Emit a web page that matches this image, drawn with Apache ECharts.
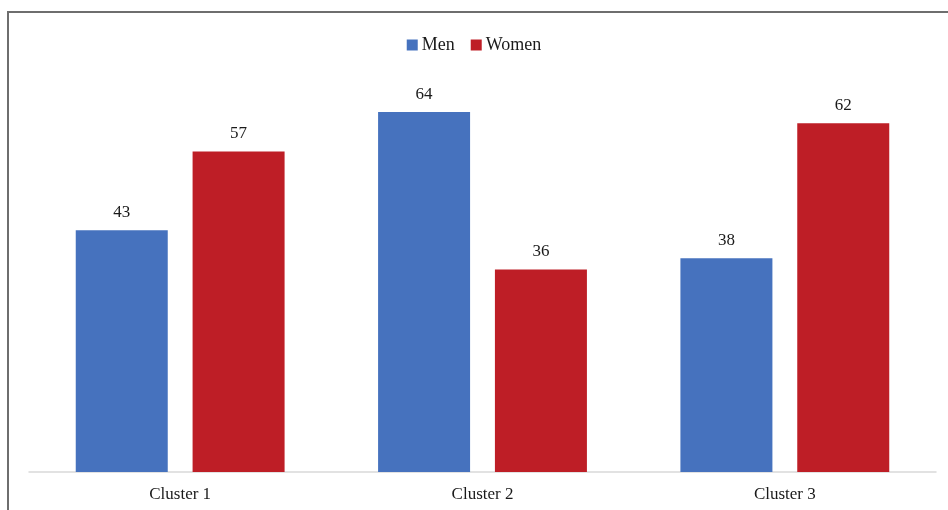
<!DOCTYPE html>
<html>
<head>
<meta charset="utf-8">
<script src="https://cdn.jsdelivr.net/npm/echarts@6/dist/echarts.min.js"></script>
<style>
    html, body { margin: 0; padding: 0; background: #fff; }
    #main { width: 948px; height: 510px; }
</style>
</head>
<body>
<div id="main"></div>
<script>
const categories = ['Cluster 1', 'Cluster 2', 'Cluster 3']
const menValues = [43, 64, 38]
const womenValues = [57, 36, 62]

const serif = '"Liberation Serif", "Times New Roman", serif'

const myChart = echarts.init(document.getElementById('main'))

myChart.setOption({
    animation: false,
    color: ['#4672BE', '#BE1E26'],
    legend: {
        top: 31,
        left: 'center',
        itemWidth: 11,
        itemHeight: 11,
        itemGap: 16,
        icon: 'rect',
        textStyle: { fontFamily: serif, fontSize: 18, color: '#1a1a1a', padding: [0, 0, 0, -1] },
        data: ['Men', 'Women']
    },
    graphic: [
        {
            type: 'line',
            shape: { x1: 8, y1: 11, x2: 8, y2: 510 },
            style: { stroke: '#6e6e6e', lineWidth: 2 }
        },
        {
            type: 'line',
            shape: { x1: 7, y1: 12, x2: 948, y2: 12 },
            style: { stroke: '#6e6e6e', lineWidth: 2 }
        }
    ],
    grid: { left: 29, right: 12, top: 22, bottom: 38 },
    xAxis: {
        type: 'category',
        data: categories,
        axisTick: { show: false },
        axisLine: { lineStyle: { color: '#d9d9d9', width: 1.5 } },
        axisLabel: { fontFamily: serif, fontSize: 17, color: '#1a1a1a', margin: 14 }
    },
    yAxis: {
        type: 'value',
        min: 0,
        max: 80,
        show: false
    },
    series: [
        {
            name: 'Men',
            type: 'bar',
            data: menValues,
            barWidth: 92,
            barGap: '27%',
            label: { show: true, position: 'top', distance: 9, fontFamily: serif, fontSize: 17, color: '#1a1a1a' }
        },
        {
            name: 'Women',
            type: 'bar',
            data: womenValues,
            barWidth: 92,
            barGap: '27%',
            label: { show: true, position: 'top', distance: 9, fontFamily: serif, fontSize: 17, color: '#1a1a1a' }
        }
    ]
})
</script>
</body>
</html>
